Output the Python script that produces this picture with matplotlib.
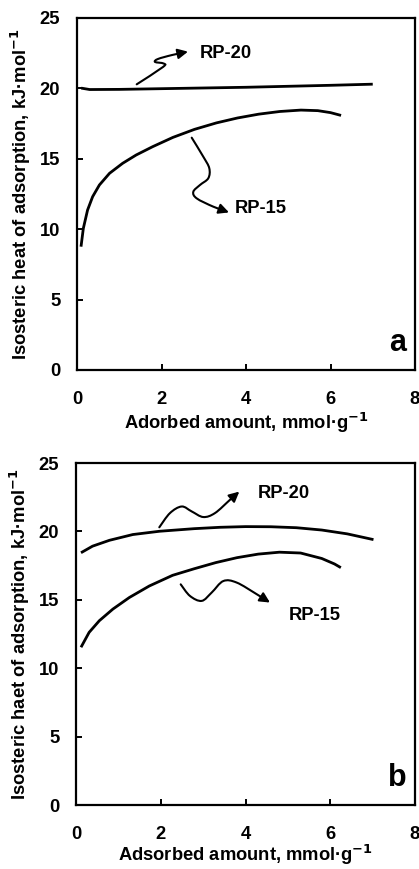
import matplotlib
matplotlib.use("Agg")
import matplotlib.pyplot as plt
from matplotlib.patches import FancyArrowPatch
from matplotlib.path import Path

plt.rcParams['font.family'] = ['Liberation Sans', 'DejaVu Sans']
plt.rcParams['font.weight'] = 'bold'

# ---- data ----
x_ticks = [0, 2, 4, 6, 8]
y_ticks = [0, 5, 10, 15, 20, 25]

# panel a
a_rp20_x = [0.10, 0.30, 1.0, 2.0, 3.0, 4.0, 5.0, 6.0, 7.0]
a_rp20_y = [20.02, 19.92, 19.93, 19.98, 20.03, 20.08, 20.15, 20.22, 20.30]
a_rp15_x = [0.095, 0.15, 0.25, 0.37, 0.53, 0.77, 1.08, 1.40, 1.79, 2.27, 2.78,
            3.3, 3.8, 4.3, 4.8, 5.3, 5.7, 6.0, 6.25]
a_rp15_y = [8.76, 10.06, 11.36, 12.31, 13.14, 13.97, 14.68, 15.27, 15.86, 16.52, 17.09,
            17.55, 17.90, 18.17, 18.36, 18.46, 18.42, 18.28, 18.08]

# panel b
b_rp20_x = [0.118, 0.39, 0.79, 1.34, 1.97, 2.79, 3.4, 4.0, 4.6, 5.2, 5.8, 6.4, 7.02]
b_rp20_y = [18.44, 18.92, 19.35, 19.77, 20.01, 20.20, 20.30, 20.35, 20.34, 20.27, 20.10, 19.82, 19.40]
b_rp15_x = [0.118, 0.31, 0.55, 0.87, 1.26, 1.73, 2.28, 2.79, 3.3, 3.8, 4.3, 4.8, 5.3, 5.8, 6.1, 6.25]
b_rp15_y = [11.53, 12.62, 13.47, 14.32, 15.17, 16.01, 16.79, 17.27, 17.72, 18.08, 18.34, 18.48, 18.42, 18.02, 17.62, 17.35]

# annotation squiggles (data coords), last point is arrow head
a_arrow20 = [(1.413, 20.29), (2.035, 21.52), (2.047, 21.77), (1.846, 21.88),
             (1.917, 22.09), (2.249, 22.37), (2.627, 22.61)]
a_arrow15 = [(2.715, 16.50), (2.989, 15.15), (3.131, 14.33), (3.108, 13.62),
             (2.911, 13.14), (2.753, 12.66), (2.833, 12.19), (3.226, 11.60), (3.598, 11.19)]
b_arrow20 = [(1.966, 20.30), (2.218, 21.34), (2.494, 21.82), (2.730, 21.46),
             (3.004, 21.05), (3.280, 21.34), (3.634, 22.31), (3.854, 22.91)]
b_arrow15 = [(2.471, 16.13), (2.690, 15.28), (2.966, 14.92), (3.202, 15.53),
             (3.476, 16.37), (3.792, 16.26), (4.264, 15.41), (4.578, 14.80)]

labels_a = [("RP-20", 2.91, 22.49), ("RP-15", 3.74, 11.47)]
labels_b = [("RP-20", 4.30, 22.80), ("RP-15", 5.03, 13.83)]

FS = 13.2

fig = plt.figure(figsize=(4.19, 8.69), dpi=100)
ax_a = fig.add_axes([77 / 419, 499 / 869, 338 / 419, 352 / 869])
ax_b = fig.add_axes([76 / 419, 64 / 869, 339 / 419, 342 / 869])


def style(ax, xlabel, ylabel, letter, xlabelpad):
    ax.set_xlim(0, 8)
    ax.set_ylim(0, 25)
    ax.set_xticks(x_ticks)
    ax.set_yticks(y_ticks)
    for s in ax.spines.values():
        s.set_linewidth(1.6)
    ax.tick_params(axis='both', direction='in', length=4.5, width=1.4,
                   labelsize=FS)
    ax.tick_params(axis='x', pad=15, top=False)
    ax.tick_params(axis='y', pad=12, right=False)
    ax.set_xlabel(xlabel, fontsize=FS, fontweight='bold', labelpad=xlabelpad)
    ax.set_ylabel(ylabel, fontsize=FS, fontweight='bold', labelpad=5)
    ax.text(0.975, 0.035, letter, transform=ax.transAxes, ha='right', va='bottom',
            fontsize=22, fontweight='bold')


def smooth_path(pts):
    # Catmull-Rom through the drawn squiggle points, as cubic Bezier segments
    verts = [pts[0]]
    codes = [Path.MOVETO]
    n = len(pts)
    for i in range(n - 1):
        p0 = pts[i - 1] if i > 0 else pts[i]
        p1 = pts[i]
        p2 = pts[i + 1]
        p3 = pts[i + 2] if i + 2 < n else pts[i + 1]
        c1 = (p1[0] + (p2[0] - p0[0]) / 6, p1[1] + (p2[1] - p0[1]) / 6)
        c2 = (p2[0] - (p3[0] - p1[0]) / 6, p2[1] - (p3[1] - p1[1]) / 6)
        verts += [c1, c2, p2]
        codes += [Path.CURVE4] * 3
    return Path(verts, codes)


def squiggle(ax, pts):
    p = FancyArrowPatch(path=smooth_path(pts), arrowstyle='-|>', mutation_scale=15,
                        linewidth=1.5, color='black', transform=ax.transData,
                        shrinkA=0, shrinkB=0)
    ax.add_patch(p)


for ax, c20x, c20y, c15x, c15y, arr20, arr15, labs in [
        (ax_a, a_rp20_x, a_rp20_y, a_rp15_x, a_rp15_y, a_arrow20, a_arrow15, labels_a),
        (ax_b, b_rp20_x, b_rp20_y, b_rp15_x, b_rp15_y, b_arrow20, b_arrow15, labels_b)]:
    ax.plot(c20x, c20y, color='black', lw=2.0, solid_capstyle='butt', solid_joinstyle='round')
    ax.plot(c15x, c15y, color='black', lw=2.0, solid_capstyle='butt', solid_joinstyle='round')
    squiggle(ax, arr20)
    squiggle(ax, arr15)
    for t, x, y in labs:
        ax.text(x, y, t, fontsize=FS, fontweight='bold', ha='left', va='center')

style(ax_a, "Adorbed amount, mmol·g$^{\\mathbf{-1}}$",
      "Isosteric heat of adsorption, kJ·mol$^{\\mathbf{-1}}$", "a", 2)
style(ax_b, "Adsorbed amount, mmol·g$^{\\mathbf{-1}}$",
      "Isosteric haet of adsorption, kJ·mol$^{\\mathbf{-1}}$", "b", 0)

fig.savefig("out.png", dpi=100)
